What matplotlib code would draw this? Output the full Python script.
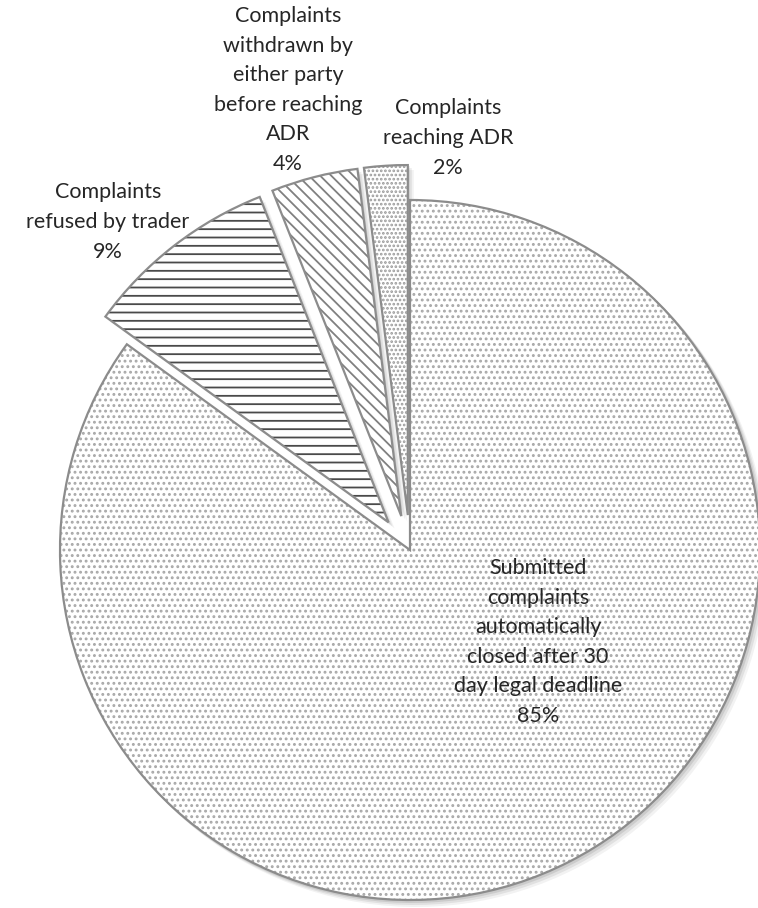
import matplotlib.pyplot as plt

# shares of submitted complaints (%), clockwise from 12 o'clock
labels = [
    "Submitted\ncomplaints\nautomatically\nclosed after 30\nday legal deadline",
    "Complaints\nrefused by trader",
    "Complaints\nwithdrawn by\neither party\nbefore reaching\nADR",
    "Complaints\nreaching ADR",
]
shares = [85, 9, 4, 2]

hatches = ["...", "--", "\\\\\\", "...."]
hatch_colors = ["#a8a8a8", "#4a4a4a", "#808080", "#9a9a9a"]
explode_frac = [0, 0.1, 0.1, 0.1]

# label anchor points in figure pixels (x, y from top)
label_xy = [(538, 642), (108, 222), (288, 90), (448, 138)]

W, H = 758, 908
center = (410, H - 550)
radius = 350
explode = [e * radius for e in explode_frac]

plt.rcParams["font.family"] = ["Lato", "DejaVu Sans"]
plt.rcParams["hatch.linewidth"] = 1.3

fig = plt.figure(figsize=(W / 100, H / 100), dpi=100)
ax = fig.add_axes([0, 0, 1, 1])

# soft shadow
for dx, al in [(6, 0.05), (4, 0.07), (2, 0.09)]:
    ax.pie(shares, explode=explode, startangle=90, counterclock=False,
           radius=radius + 1, center=(center[0] + dx, center[1] - dx),
           colors=["#000000"] * 4, wedgeprops=dict(linewidth=0, alpha=al))

wedges, _ = ax.pie(shares, explode=explode, startangle=90, counterclock=False,
                   radius=radius, center=center, colors=["white"] * 4,
                   wedgeprops=dict(linewidth=0))
for w, h, c in zip(wedges, hatches, hatch_colors):
    w.set_hatch(h)
    w.set_edgecolor(c)
    w.set_linewidth(0)

ax.pie(shares, explode=explode, startangle=90, counterclock=False,
       radius=radius, center=center,
       wedgeprops=dict(fill=False, edgecolor="#8c8c8c", linewidth=1.6))

for lab, s, (x, y) in zip(labels, shares, label_xy):
    ax.text(x, H - y, f"{lab}\n{s}%", ha="center", va="center",
            fontsize=15.5, color="#262626", linespacing=1.6)

ax.set_xlim(0, W)
ax.set_ylim(0, H)
ax.set_aspect("equal")
ax.axis("off")

fig.savefig("out.png", dpi=100)
